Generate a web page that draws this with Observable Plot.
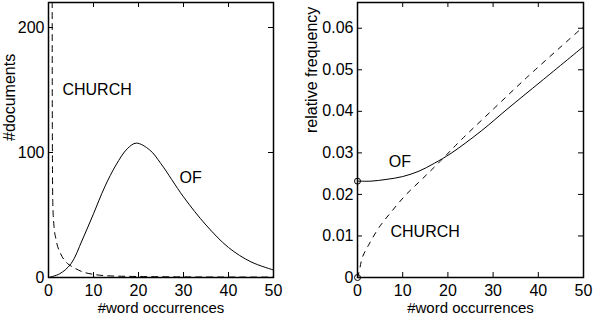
<!DOCTYPE html>
<html>
<head>
<meta charset="utf-8">
<script src="https://cdn.jsdelivr.net/npm/d3@7"></script>
<script src="https://cdn.jsdelivr.net/npm/@observablehq/plot@0.6"></script>
<style>
  html, body { margin: 0; padding: 0; background: #fff; }
  #wrap { display: flex; width: 594px; height: 316px; }
</style>
</head>
<body>
<div id="wrap"></div>
<script>
// ---- Data ----
// Left panel: number of documents vs. word occurrences
const ofDocX = [0, 2.5, 5, 7.5, 10, 12.5, 15, 17.5, 19.5, 22.5, 25, 30, 35, 40, 45, 50];
const ofDocY = [0, 3, 11, 30, 51, 72.5, 90, 103, 107.5, 102, 91, 64.5, 42, 24, 12.5, 6];
const churchDocX = [0.8, 0.85, 0.95, 1.2, 1.7, 2.7, 4, 5.6, 7.6, 10, 13, 18, 25, 35, 50];
const churchDocY = [300, 120, 60, 42, 30, 19, 12, 8, 4.5, 2.5, 1.4, 0.9, 0.6, 0.4, 0.3];

// Right panel: relative frequency vs. word occurrences
const ofRelX = [0, 3, 6.3, 10, 13.6, 17, 20.7, 27.4, 33.3, 40.6, 50];
const ofRelY = [0.0232, 0.0232, 0.0236, 0.0243, 0.0256, 0.0275, 0.0299, 0.0353, 0.0407, 0.0472, 0.0556];
const churchRelX = [0, 0.4, 1.1, 2.6, 4.8, 7.7, 10.7, 14.4, 18.5, 22.9, 30.3, 37.7, 50];
const churchRelY = [0, 0.0016, 0.0049, 0.0081, 0.0121, 0.0161, 0.0199, 0.0238, 0.0282, 0.0331, 0.0408, 0.0484, 0.0604];

// Ticks and labels
const xTicks = [0, 10, 20, 30, 40, 50];
const yTicksDoc = [0, 100, 200];
const yTicksRel = [0, 0.01, 0.02, 0.03, 0.04, 0.05, 0.06];
const xLabel = "#word occurrences";
const yLabelDoc = "#documents";
const yLabelRel = "relative frequency";
const seriesNames = ["OF", "CHURCH"];
// annotation anchors in data units
const docLabelX = [29.1, 3.1];
const docLabelY = [79.7, 150];
const relLabelX = [6.9, 7.3];
const relLabelY = [0.0278, 0.0110];

const zip = (xs, ys) => xs.map((x, i) => ({x, y: ys[i]}));
const FONT = "'Liberation Sans', Arial, Helvetica, sans-serif";
const FS = 16;

function panel({width, marginLeft, marginRight, yDomain, yTicks, yFormat, series, labels, yLabel, yLabelDy, yLabelDx, dots}) {
  const H = 316, mt = 2, mb = 39;
  const ph = H - mt - mb;
  const pw = width - marginLeft - marginRight;
  const marks = [
    Plot.frame({stroke: "black", strokeWidth: 1.5}),
    // inward ticks on all four sides
    Plot.tickX(xTicks, {x: d => d, insetTop: ph - 5, stroke: "black"}),
    Plot.tickX(xTicks, {x: d => d, insetBottom: ph - 5, stroke: "black"}),
    Plot.tickY(yTicks, {y: d => d, insetRight: pw - 5, stroke: "black"}),
    Plot.tickY(yTicks, {y: d => d, insetLeft: pw - 5, stroke: "black"}),
    Plot.axisX(xTicks, {anchor: "bottom", tickSize: 0, tickPadding: 7, label: null, fill: "black", fontSize: FS}),
    Plot.axisY(yTicks, {anchor: "left", tickSize: 0, tickPadding: 4, label: null, tickFormat: yFormat, fill: "black", fontSize: FS}),
    ...series.map(s => Plot.line(s.data, {x: "x", y: "y", stroke: "black", strokeWidth: 1, strokeDasharray: s.dash, curve: s.curve, clip: true})),
    Plot.text(labels, {x: "x", y: "y", text: "t", textAnchor: "start", lineAnchor: "middle", fill: "black", fontSize: FS}),
    Plot.text([xLabel], {frameAnchor: "bottom", dy: 31, lineAnchor: "middle", fill: "black", fontSize: 15}),
    Plot.text([yLabel], {frameAnchor: "left", dx: yLabelDx, dy: yLabelDy, rotate: -90, lineAnchor: "middle", fill: "black", fontSize: FS})
  ];
  if (dots) marks.push(Plot.dot(dots, {x: "x", y: "y", r: 3, stroke: "black", fill: "none", strokeWidth: 1}));
  return Plot.plot({
    width, height: H,
    marginLeft, marginRight, marginTop: mt, marginBottom: mb,
    style: {fontFamily: FONT, fontSize: FS + "px", background: "white", color: "black", overflow: "visible"},
    x: {domain: [0, 50]},
    y: {domain: yDomain},
    marks
  });
}

const left = panel({
  width: 297, marginLeft: 48, marginRight: 24,
  yDomain: [0, 220], yTicks: yTicksDoc, yFormat: d => String(d),
  series: [
    {data: zip(ofDocX, ofDocY), dash: null, curve: "catmull-rom"},
    {data: zip(churchDocX, churchDocY), dash: "6,5", curve: "monotone-x"}
  ],
  labels: seriesNames.map((t, i) => ({t, x: docLabelX[i], y: docLabelY[i]})),
  yLabel: yLabelDoc, yLabelDx: -39, yLabelDy: 1
});

const right = panel({
  width: 297, marginLeft: 60, marginRight: 11,
  yDomain: [0, 0.0662], yTicks: yTicksRel, yFormat: d => d === 0 ? "0" : d.toFixed(2),
  series: [
    {data: zip(ofRelX, ofRelY), dash: null, curve: "catmull-rom"},
    {data: zip(churchRelX, churchRelY), dash: "5,6", curve: "catmull-rom"}
  ],
  labels: seriesNames.map((t, i) => ({t, x: relLabelX[i], y: relLabelY[i]})),
  yLabel: yLabelRel, yLabelDx: -46, yLabelDy: -7,
  dots: [{x: ofRelX[0], y: ofRelY[0]}, {x: churchRelX[0], y: churchRelY[0]}]
});

const wrap = document.getElementById("wrap");
wrap.appendChild(left);
wrap.appendChild(right);
</script>
</body>
</html>
